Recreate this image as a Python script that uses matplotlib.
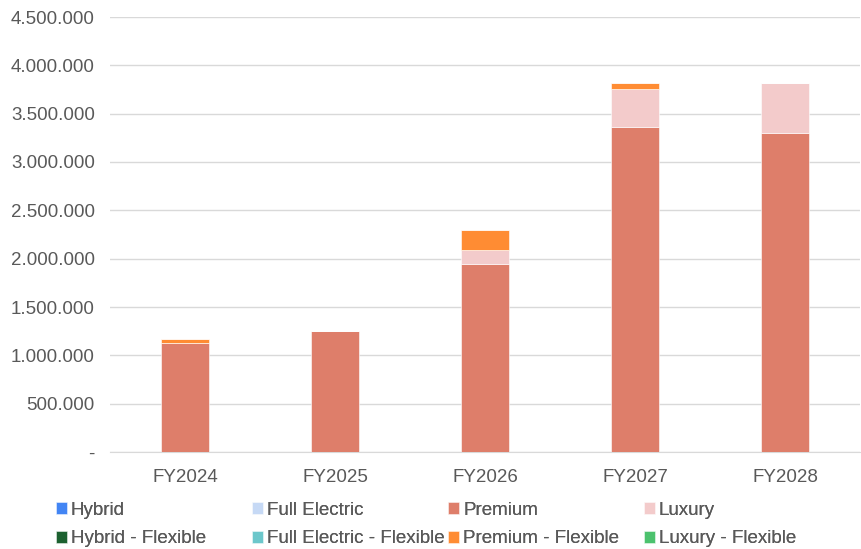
import matplotlib
matplotlib.use("Agg")
import matplotlib.pyplot as plt
import numpy as np
from matplotlib.ticker import FuncFormatter

plt.rcParams['font.family'] = ['Liberation Sans', 'DejaVu Sans']

years = ["FY2024", "FY2025", "FY2026", "FY2027", "FY2028"]

hybrid = [0, 0, 0, 0, 0]
full_electric = [0, 0, 0, 0, 0]
premium = [1128000, 1252000, 1945000, 3362000, 3303000]
luxury = [0, 0, 145000, 390000, 514000]
hybrid_flex = [0, 0, 0, 0, 0]
full_electric_flex = [0, 0, 0, 0, 0]
premium_flex = [40000, 0, 205000, 65000, 0]
luxury_flex = [0, 0, 0, 0, 0]

series = [
    ("Hybrid", hybrid, "#4285F4"),
    ("Full Electric", full_electric, "#C6D9F5"),
    ("Premium", premium, "#DE7E6A"),
    ("Luxury", luxury, "#F3CBCB"),
    ("Hybrid - Flexible", hybrid_flex, "#1C6130"),
    ("Full Electric - Flexible", full_electric_flex, "#6CC7CB"),
    ("Premium - Flexible", premium_flex, "#FF8C33"),
    ("Luxury - Flexible", luxury_flex, "#4CC26E"),
]

fig = plt.figure(figsize=(8.61, 5.49), dpi=100)
ax = fig.add_axes([110 / 861, 97 / 549, 750 / 861, 435 / 549])

x = np.arange(len(years))
bottom = np.zeros(len(years))
handles = {}
for name, vals, color in series:
    vals = np.array(vals, dtype=float)
    h = ax.bar(x, vals, width=0.32, bottom=bottom, color=color, label=name,
               edgecolor="white", linewidth=0.4, zorder=3)
    handles[name] = h
    bottom += vals

ax.set_xlim(-0.5, len(years) - 0.5)
ax.set_ylim(0, 4500000)
ax.set_yticks(np.arange(0, 4500001, 500000))

def fmt(v, pos):
    if v == 0:
        return "-"
    return f"{int(v):,}".replace(",", ".")

ax.yaxis.set_major_formatter(FuncFormatter(fmt))
ax.set_xticks(x)
ax.set_xticklabels(years)
ax.grid(axis="y", color="#D9D9D9", linewidth=1, zorder=0)
for s in ["top", "right", "left"]:
    ax.spines[s].set_visible(False)
ax.spines["bottom"].set_color("#D9D9D9")
ax.tick_params(axis="both", length=0, colors="#595959", labelsize=13.5)
ax.tick_params(axis="y", pad=11)
ax.tick_params(axis="x", pad=12)

# legend laid out as four fixed-width columns, two rows each
columns = [("Hybrid", "Hybrid - Flexible"),
           ("Full Electric", "Full Electric - Flexible"),
           ("Premium", "Premium - Flexible"),
           ("Luxury", "Luxury - Flexible")]
col_x = [56, 252, 448, 644]
for cx, names in zip(col_x, columns):
    leg = fig.legend([handles[n] for n in names], list(names), ncol=1,
                     loc="upper left", bbox_to_anchor=(cx / 861, 1 - 502 / 549),
                     frameon=False, fontsize=13.5, handlelength=0.6, handleheight=0.6,
                     handletextpad=0.2, labelspacing=0.6, borderaxespad=0.0,
                     borderpad=0.0)
    for t in leg.get_texts():
        t.set_color("#595959")
    fig.add_artist(leg)

fig.savefig("out.png", dpi=100)
